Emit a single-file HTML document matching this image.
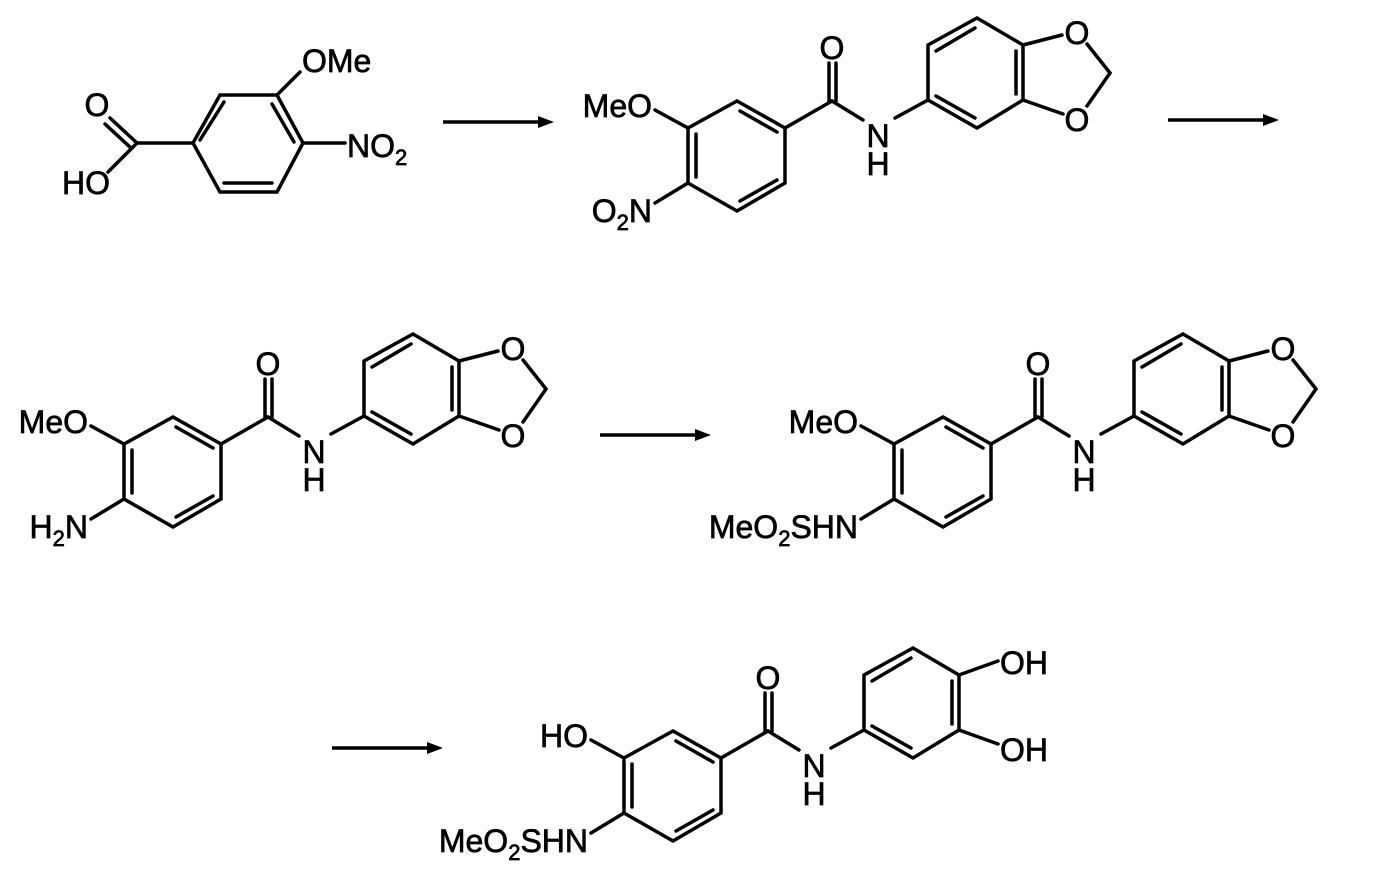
<!DOCTYPE html>
<html><head><meta charset="utf-8"><style>
html,body{margin:0;padding:0;background:#fff;}
svg{display:block;}
text{font-family:"Liberation Sans",Arial,sans-serif;font-size:32px;fill:#000;stroke:#000;stroke-width:0.7px;}
.s{font-size:22px;}
</style></head><body>
<svg width="1376" height="872" viewBox="0 0 1376 872" xmlns="http://www.w3.org/2000/svg">
<defs>
<g id="amide" stroke="#000" stroke-width="3.5" fill="none" stroke-linecap="round">
  <polyline points="688,128 737,101 785,128 785,183 737,211 688,183 688,128"/>
  <line x1="696" y1="134" x2="696" y2="177"/>
  <line x1="740" y1="111" x2="777" y2="132"/>
  <line x1="740" y1="201" x2="777" y2="180"/>
  <line x1="655" y1="110" x2="688" y2="128"/>
  <line x1="655" y1="203" x2="688" y2="183"/>
  <line x1="785" y1="128" x2="832" y2="101"/>
  <line x1="829" y1="101" x2="829" y2="63"/>
  <line x1="836" y1="101" x2="836" y2="63"/>
  <line x1="832" y1="101" x2="863" y2="120"/>
</g>
<g id="ringB" stroke="#000" stroke-width="3.5" fill="none" stroke-linecap="round">
  <line x1="895" y1="118" x2="928" y2="100"/>
  <polyline points="928,100 928,45 977,18 1023,45 1023,100 977,128 928,100"/>
  <line x1="936" y1="51" x2="975" y2="28"/>
  <line x1="1016" y1="51" x2="1016" y2="94"/>
  <line x1="936" y1="96" x2="975" y2="118"/>
</g>
<g id="dioxole" stroke="#000" stroke-width="3.5" fill="none" stroke-linecap="round">
  <line x1="1023" y1="45" x2="1062" y2="35"/>
  <line x1="1023" y1="100" x2="1063" y2="114"/>
  <polyline points="1087,44 1110,73 1087,106"/>
</g>
<g id="amideText">
  <text x="832" y="59" text-anchor="middle">O</text>
  <text x="878" y="147" text-anchor="middle">N</text>
  <text x="878" y="175" text-anchor="middle">H</text>
</g>
<g id="dioxText">
  <text x="1077" y="44" text-anchor="middle">O</text>
  <text x="1077" y="131" text-anchor="middle">O</text>
</g>
<g id="arrow">
  <line x1="0" y1="0" x2="100" y2="0" stroke="#000" stroke-width="3.5"/>
  <polygon points="95,-6 111,0 95,6" fill="#000"/>
</g>
</defs>

<g stroke="#000" stroke-width="3.5" fill="none" stroke-linecap="round">
  <polyline points="220,95 277,95 303,143 277,192 220,192 193,143 220,95"/>
  <line x1="200" y1="140" x2="224" y2="102"/>
  <line x1="272" y1="104" x2="294" y2="142"/>
  <line x1="224" y1="183" x2="272" y2="183"/>
  <line x1="277" y1="95" x2="300" y2="72"/>
  <line x1="303" y1="143" x2="345" y2="143"/>
  <line x1="193" y1="143" x2="137" y2="143"/>
  <line x1="137" y1="143" x2="110" y2="118"/>
  <line x1="131" y1="148" x2="105" y2="124"/>
  <line x1="137" y1="143" x2="108" y2="172"/>
</g>
<text x="302" y="72">OMe</text>
<text x="347" y="157">NO<tspan class="s" dy="8">2</tspan></text>
<text x="97" y="116" text-anchor="middle">O</text>
<text x="62" y="194">HO</text>

<use href="#arrow" x="443" y="122"/>

<use href="#amide"/><use href="#ringB"/><use href="#dioxole"/>
<use href="#amideText"/><use href="#dioxText"/>
<text x="652" y="117" text-anchor="end">MeO</text>
<text x="652" y="222" text-anchor="end">O<tspan class="s" dy="8">2</tspan><tspan dy="-8">N</tspan></text>

<use href="#arrow" x="1168" y="120"/>

<g transform="translate(-564,316)">
  <use href="#amide"/><use href="#ringB"/><use href="#dioxole"/>
  <use href="#amideText"/><use href="#dioxText"/>
  <text x="652" y="117" text-anchor="end">MeO</text>
  <text x="652" y="222" text-anchor="end">H<tspan class="s" dy="8">2</tspan><tspan dy="-8">N</tspan></text>
</g>

<use href="#arrow" x="600" y="435"/>

<g transform="translate(206,316)">
  <use href="#amide"/><use href="#ringB"/><use href="#dioxole"/>
  <use href="#amideText"/><use href="#dioxText"/>
  <text x="652" y="117" text-anchor="end">MeO</text>
  <text x="652" y="222" text-anchor="end">MeO<tspan class="s" dy="8">2</tspan><tspan dy="-8">SHN</tspan></text>
</g>

<use href="#arrow" x="332" y="748"/>

<g transform="translate(-64,630)">
  <use href="#amide"/><use href="#ringB"/>
  <use href="#amideText"/>
  <g stroke="#000" stroke-width="3.5" stroke-linecap="round">
    <line x1="1023" y1="45" x2="1062" y2="31"/>
    <line x1="1023" y1="100" x2="1062" y2="114"/>
  </g>
  <text x="652" y="117" text-anchor="end">HO</text>
  <text x="652" y="222" text-anchor="end">MeO<tspan class="s" dy="8">2</tspan><tspan dy="-8">SHN</tspan></text>
</g>
<text x="1000" y="674">OH</text>
<text x="1000" y="761">OH</text>
</svg>
</body></html>
